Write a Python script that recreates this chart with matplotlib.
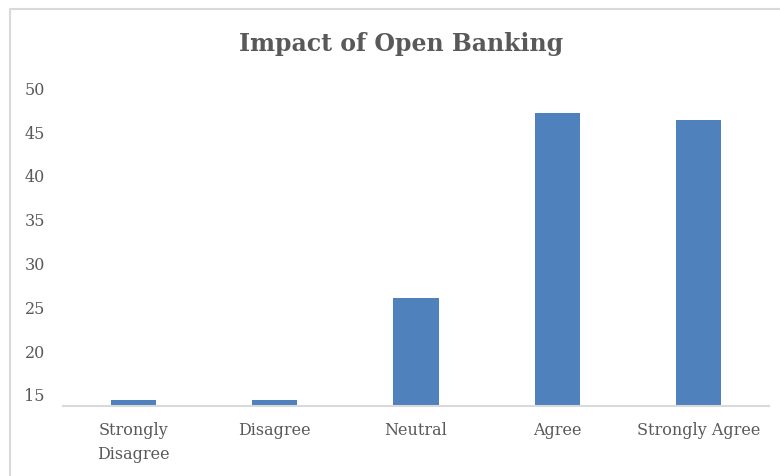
import matplotlib.pyplot as plt
from matplotlib.lines import Line2D

categories = ['Strongly\nDisagree', 'Disagree', 'Neutral', 'Agree', 'Strongly Agree']
values = [14.4, 14.4, 26.1, 47.2, 46.4]
yticks = [15, 20, 25, 30, 35, 40, 45, 50]

grey = '#595959'
plt.rcParams['font.family'] = ['DejaVu Serif']

fig = plt.figure(figsize=(7.8, 4.76), dpi=100)
ax = fig.add_axes([63 / 780, 70.5 / 476, 706 / 780, 317.2 / 476])

x = range(len(categories))
ax.bar(x, values, width=0.32, color='#4f81bd', zorder=2)

ax.set_xlim(-0.5, len(categories) - 0.5)
ax.set_ylim(13.8, 50)
ax.set_yticks(yticks)
ax.set_xticks(list(x))
ax.set_xticklabels(categories, fontsize=11.5, color=grey, linespacing=1.5)
ax.tick_params(axis='y', length=0, pad=13, labelsize=11.5, labelcolor=grey)
ax.tick_params(axis='x', length=0, pad=12)

for s in ['top', 'right', 'left']:
    ax.spines[s].set_visible(False)
ax.spines['bottom'].set_color('#d9d9d9')
ax.spines['bottom'].set_linewidth(1.5)

fig.text(401 / 780, 1 - 44 / 476, 'Impact of Open Banking', ha='center', va='center',
         fontsize=17, fontweight='bold', color=grey)

# chart area border (only left and top visible)
fig.add_artist(Line2D([10 / 780, 10 / 780, 1], [0, 1 - 9 / 476, 1 - 9 / 476],
                      transform=fig.transFigure, color='#d9d9d9', lw=1.5))

fig.savefig('out.png', dpi=100)
